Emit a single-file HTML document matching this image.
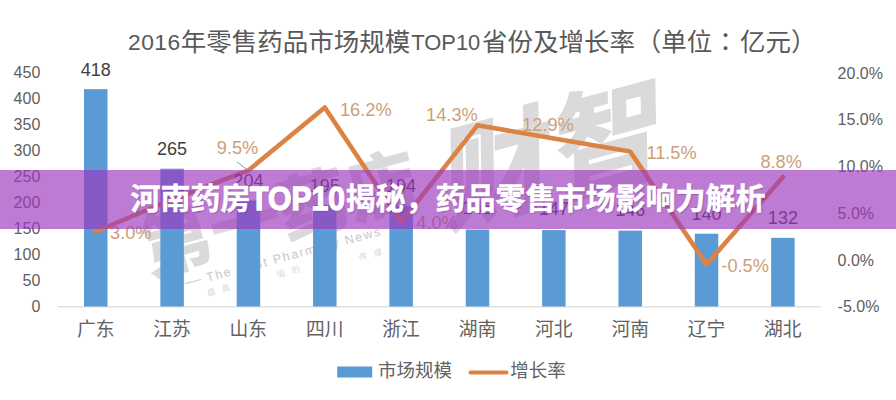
<!DOCTYPE html>
<html lang="zh-CN">
<head>
<meta charset="utf-8">
<title>河南药房TOP10揭秘，药品零售市场影响力解析</title>
<style>
html,body{margin:0;padding:0;background:#fff}
body{width:896px;height:400px;position:relative;overflow:hidden;font-family:"Liberation Sans","Noto Sans CJK SC",sans-serif}
.chart{position:absolute;left:0;top:0;width:896px;height:400px;overflow:hidden}
.chart svg{position:absolute;left:0;top:0}
.chart span{position:absolute;white-space:nowrap;line-height:1}
.h{color:#626262}
.tt{color:#595959}
.ax{color:#606060;font-size:16px}
.bv{color:#404040;font-size:18px}
.pv{color:#cc9f79;font-size:18.2px}
.banner{position:absolute;left:0;top:170px;width:896px;height:58.5px;background:rgba(156,55,190,0.66);overflow:hidden}
.banner svg{position:absolute;left:0;top:0}
.sh{filter:drop-shadow(1px 1px 1.5px rgba(60,0,90,.32))}
.bt{position:absolute;top:0;height:58px;line-height:58px;font-size:30px;font-weight:bold;white-space:nowrap}
.h2{color:#fff;-webkit-text-stroke:0.5px #fff;text-shadow:1px 1px 1.5px rgba(60,0,90,.32)}
.top10{color:#fff;top:-0.2px;font-size:33.2px;transform-origin:0 50%;transform:scaleX(0.91);-webkit-text-stroke:1.3px #fff;text-shadow:1px 1px 1.5px rgba(60,0,90,.32)}
</style>
</head>
<body>
<div class="chart">
<svg width="896" height="400" viewBox="0 0 896 400">
<g transform="rotate(-15)" fill="#dadada"><text x="73" y="304" font-family="Liberation Sans, Noto Sans CJK SC, sans-serif" font-size="70" font-weight="bold" letter-spacing="1" fill="#dadada" stroke="#dadada" stroke-width="1.6">第一药店</text><text x="372" y="333" font-family="Liberation Sans, Noto Sans CJK SC, sans-serif" font-size="112" font-weight="bold" font-style="italic" letter-spacing="3" fill="#dadada" stroke="#dadada" stroke-width="2">财智</text><text x="124.2" y="340" font-family="Liberation Sans, Noto Sans CJK SC, sans-serif" font-size="8.5" letter-spacing="6.5" fill="#dadada">最具</text><text x="196.2" y="340" font-family="Liberation Sans, Noto Sans CJK SC, sans-serif" font-size="8.5" letter-spacing="7" fill="#dadada">值的</text><text x="280.1" y="345" font-family="Liberation Sans, Noto Sans CJK SC, sans-serif" font-size="8.5" letter-spacing="6.6" fill="#dadada">传媒</text><rect x="105" y="321.5" width="17" height="1" fill="#cccccc"/><rect x="325" y="321.5" width="8" height="1" fill="#cccccc"/><text x="127.6" y="326" font-family="Liberation Sans, sans-serif" font-size="12.5" letter-spacing="1.62" fill="#c8c8c8">The First Pharmacy News</text></g>
<rect x="57.6" y="306.2" width="763.4" height="1.2" fill="#d9d9d9"/>
<rect x="84.00" y="89.14" width="23.5" height="217.36" fill="#5b9bd5"/>
<rect x="160.35" y="168.70" width="23.5" height="137.80" fill="#5b9bd5"/>
<rect x="236.70" y="200.42" width="23.5" height="106.08" fill="#5b9bd5"/>
<rect x="313.05" y="205.10" width="23.5" height="101.40" fill="#5b9bd5"/>
<rect x="389.40" y="205.62" width="23.5" height="100.88" fill="#5b9bd5"/>
<rect x="465.75" y="229.54" width="23.5" height="76.96" fill="#5b9bd5"/>
<rect x="542.10" y="230.06" width="23.5" height="76.44" fill="#5b9bd5"/>
<rect x="618.45" y="230.58" width="23.5" height="75.92" fill="#5b9bd5"/>
<rect x="694.80" y="233.70" width="23.5" height="72.80" fill="#5b9bd5"/>
<rect x="771.15" y="237.86" width="23.5" height="68.64" fill="#5b9bd5"/>
<polyline points="95.8,231.5 172.1,199.5 248.4,170.4 324.8,107.4 401.1,222.1 477.5,125.3 553.8,138.4 630.2,151.6 706.5,264.4 782.9,177.0" fill="none" stroke="#dc8344" stroke-width="4.6" stroke-linejoin="round" stroke-linecap="round"/>
<line x1="236.9" y1="161.9" x2="247" y2="169.5" stroke="#8c9db5" stroke-width="1"/>
<rect x="337.2" y="366.5" width="35" height="11" fill="#5b9bd5"/>
<line x1="470.5" y1="372.6" x2="506.5" y2="372.6" stroke="#dc8344" stroke-width="4" stroke-linecap="round"/>
</svg>
<span class="h" style="left:377.9px;top:362.3px;width:74.0px;height:18.5px;font-size:18.5px;line-height:18.5px">市场规模</span>
<span class="h" style="left:510.3px;top:362.3px;width:54.0px;height:18.5px;font-size:18.5px;line-height:18.5px">增长率</span>
<span class="h" style="left:77.0px;top:321.1px;width:37.6px;height:18.8px;font-size:18.8px;line-height:18.8px">广东</span>
<span class="h" style="left:153.3px;top:321.1px;width:37.6px;height:18.8px;font-size:18.8px;line-height:18.8px">江苏</span>
<span class="h" style="left:229.6px;top:321.1px;width:37.6px;height:18.8px;font-size:18.8px;line-height:18.8px">山东</span>
<span class="h" style="left:306.0px;top:321.1px;width:37.6px;height:18.8px;font-size:18.8px;line-height:18.8px">四川</span>
<span class="h" style="left:382.3px;top:321.1px;width:37.6px;height:18.8px;font-size:18.8px;line-height:18.8px">浙江</span>
<span class="h" style="left:458.7px;top:321.1px;width:37.6px;height:18.8px;font-size:18.8px;line-height:18.8px">湖南</span>
<span class="h" style="left:535.0px;top:321.1px;width:37.6px;height:18.8px;font-size:18.8px;line-height:18.8px">河北</span>
<span class="h" style="left:611.4px;top:321.1px;width:37.6px;height:18.8px;font-size:18.8px;line-height:18.8px">河南</span>
<span class="h" style="left:687.8px;top:321.1px;width:37.6px;height:18.8px;font-size:18.8px;line-height:18.8px">辽宁</span>
<span class="h" style="left:764.1px;top:321.1px;width:37.6px;height:18.8px;font-size:18.8px;line-height:18.8px">湖北</span>
<span class="h tt" style="left:180.7px;top:29.7px;width:230.4px;height:25.5px;font-size:25.5px;line-height:25.5px">年零售药品市场规模</span>
<span class="h tt" style="left:482.1px;top:29.7px;width:152.4px;height:25.5px;font-size:25.5px;line-height:25.5px">省份及增长率</span>
<span class="h tt" style="left:635.8px;top:29.7px;width:76.8px;height:25.5px;font-size:25.5px;line-height:25.5px">（单位</span>
<span class="h tt" style="left:713.0px;top:30.2px;width:25.0px;height:25.0px;font-size:25px;line-height:25.0px;text-align:center;font-family:'Liberation Sans','Noto Sans CJK JP',sans-serif">：</span>
<span class="h tt" style="left:740.0px;top:29.7px;width:73.8px;height:25.5px;font-size:25.5px;line-height:25.5px">亿元）</span>
<span class="tt" style="left:128.0px;top:42.2px;transform:translate(0,-50%);font-size:22.8px;letter-spacing:0.45px">2016</span>
<span class="tt" style="left:411.3px;top:42.6px;transform:translate(0,-50%);font-size:21.9px">TOP10</span>
<span class="ax" style="left:40.3px;top:73.4px;transform:translate(-100%,-50%);">450</span>
<span class="ax" style="left:40.3px;top:99.3px;transform:translate(-100%,-50%);">400</span>
<span class="ax" style="left:40.3px;top:125.3px;transform:translate(-100%,-50%);">350</span>
<span class="ax" style="left:40.3px;top:151.2px;transform:translate(-100%,-50%);">300</span>
<span class="ax" style="left:40.3px;top:177.2px;transform:translate(-100%,-50%);">250</span>
<span class="ax" style="left:40.3px;top:203.1px;transform:translate(-100%,-50%);">200</span>
<span class="ax" style="left:40.3px;top:229.0px;transform:translate(-100%,-50%);">150</span>
<span class="ax" style="left:40.3px;top:255.0px;transform:translate(-100%,-50%);">100</span>
<span class="ax" style="left:40.3px;top:280.9px;transform:translate(-100%,-50%);">50</span>
<span class="ax" style="left:40.3px;top:306.9px;transform:translate(-100%,-50%);">0</span>
<span class="ax" style="left:837.6px;top:73.7px;transform:translate(0,-50%);">20.0%</span>
<span class="ax" style="left:837.6px;top:120.4px;transform:translate(0,-50%);">15.0%</span>
<span class="ax" style="left:837.6px;top:167.1px;transform:translate(0,-50%);">10.0%</span>
<span class="ax" style="left:837.6px;top:213.8px;transform:translate(0,-50%);">5.0%</span>
<span class="ax" style="left:837.6px;top:260.5px;transform:translate(0,-50%);">0.0%</span>
<span class="ax" style="left:837.6px;top:307.2px;transform:translate(0,-50%);">-5.0%</span>
<span class="bv" style="left:95.8px;top:69.5px;transform:translate(-50%,-50%);">418</span>
<span class="bv" style="left:172.1px;top:149.1px;transform:translate(-50%,-50%);">265</span>
<span class="bv" style="left:248.4px;top:180.8px;transform:translate(-50%,-50%);">204</span>
<span class="bv" style="left:324.8px;top:185.5px;transform:translate(-50%,-50%);">195</span>
<span class="bv" style="left:401.1px;top:186.0px;transform:translate(-50%,-50%);">194</span>
<span class="bv" style="left:477.5px;top:208.4px;transform:translate(-50%,-50%);">148</span>
<span class="bv" style="left:553.8px;top:209.0px;transform:translate(-50%,-50%);">147</span>
<span class="bv" style="left:630.2px;top:209.5px;transform:translate(-50%,-50%);">146</span>
<span class="bv" style="left:706.5px;top:214.1px;transform:translate(-50%,-50%);">140</span>
<span class="bv" style="left:782.9px;top:218.3px;transform:translate(-50%,-50%);">132</span>
<span class="pv" style="left:130.8px;top:233.3px;transform:translate(-50%,-50%);">3.0%</span>
<span class="pv" style="left:237.5px;top:147.7px;transform:translate(-50%,-50%);">9.5%</span>
<span class="pv" style="left:365.8px;top:109.7px;transform:translate(-50%,-50%);">16.2%</span>
<span class="pv" style="left:437.0px;top:223.3px;transform:translate(-50%,-50%);">4.0%</span>
<span class="pv" style="left:451.9px;top:114.7px;transform:translate(-50%,-50%);">14.3%</span>
<span class="pv" style="left:548.0px;top:125.0px;transform:translate(-50%,-50%);">12.9%</span>
<span class="pv" style="left:671.5px;top:153.1px;transform:translate(-50%,-50%);">11.5%</span>
<span class="pv" style="left:745.1px;top:265.5px;transform:translate(-50%,-50%);">-0.5%</span>
<span class="pv" style="left:781.2px;top:161.8px;transform:translate(-50%,-50%);">8.8%</span>
</div>
<div class="banner"><svg width="896" height="58" viewBox="0 -40.9 896 58"></svg><span class="bt h2" style="left:130.4px;width:120px">河南药房</span><span class="bt top10" style="left:249.8px;">TOP10</span><span class="bt h2" style="left:345.6px;width:420px">揭秘，药品零售市场影响力解析</span></div>
</body>
</html>
